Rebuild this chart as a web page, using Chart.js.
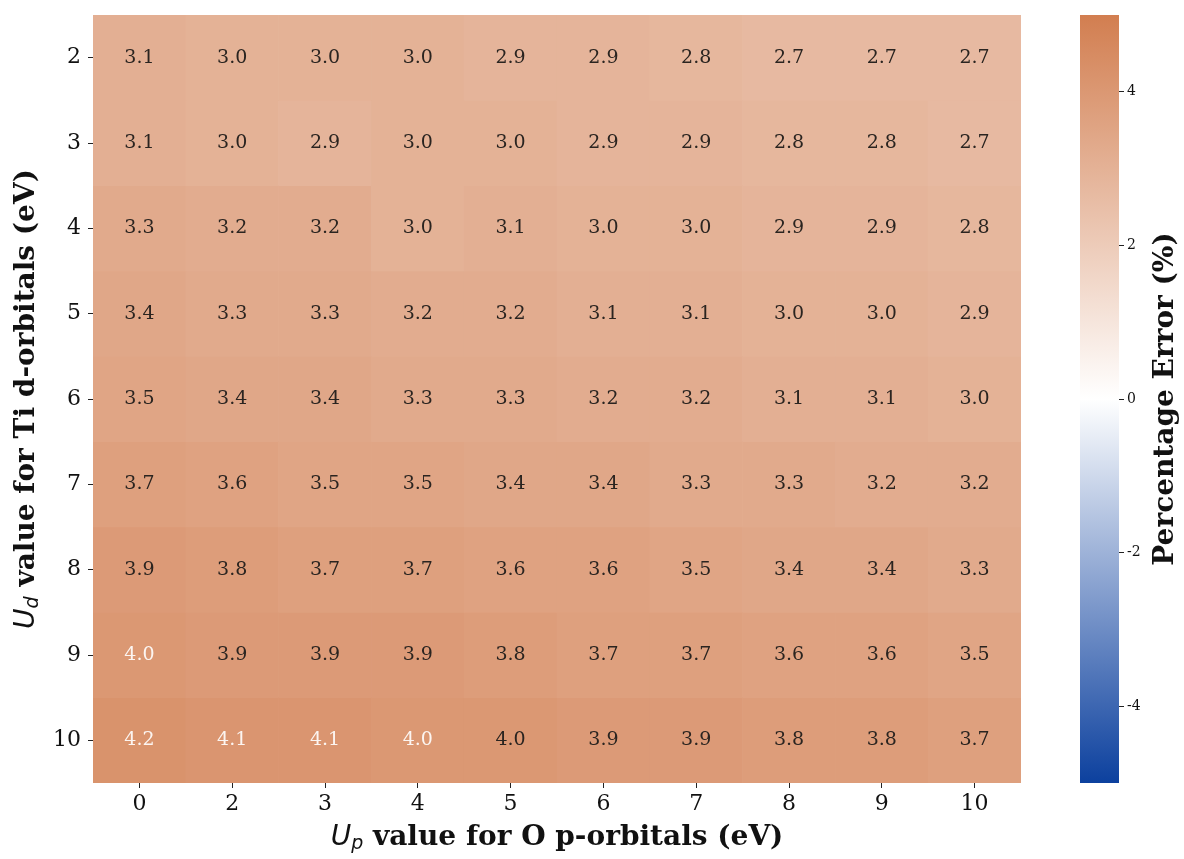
<!DOCTYPE html>
<html>
<head>
<meta charset="utf-8">
<script src="https://cdn.jsdelivr.net/npm/chart.js@4"></script>
<style>
  body { margin: 0; background: #fff; }
  #wrap { position: relative; width: 1184px; height: 859px; }
  #heat { position: absolute; left: 0; top: 0; }
  #cbar { position: absolute; left: 1040px; top: 0; }
</style>
</head>
<body>
<div id="wrap">
  <canvas id="heat" width="1040" height="859"></canvas>
  <canvas id="cbar" width="144" height="859"></canvas>
</div>
<script>
// columns: U_p (eV), rows: U_d (eV)
const upLabels = ['0', '2', '3', '4', '5', '6', '7', '8', '9', '10'];
const udLabels = ['2', '3', '4', '5', '6', '7', '8', '9', '10'];

// percentage error per row (U_d), one value per U_p column
const errUd2 = [3.1, 3.0, 3.0, 3.0, 2.9, 2.9, 2.8, 2.7, 2.7, 2.7];
const errUd3 = [3.1, 3.0, 2.9, 3.0, 3.0, 2.9, 2.9, 2.8, 2.8, 2.7];
const errUd4 = [3.3, 3.2, 3.2, 3.0, 3.1, 3.0, 3.0, 2.9, 2.9, 2.8];
const errUd5 = [3.4, 3.3, 3.3, 3.2, 3.2, 3.1, 3.1, 3.0, 3.0, 2.9];
const errUd6 = [3.5, 3.4, 3.4, 3.3, 3.3, 3.2, 3.2, 3.1, 3.1, 3.0];
const errUd7 = [3.7, 3.6, 3.5, 3.5, 3.4, 3.4, 3.3, 3.3, 3.2, 3.2];
const errUd8 = [3.9, 3.8, 3.7, 3.7, 3.6, 3.6, 3.5, 3.4, 3.4, 3.3];
const errUd9 = [4.0, 3.9, 3.9, 3.9, 3.8, 3.7, 3.7, 3.6, 3.6, 3.5];
const errUd10 = [4.2, 4.1, 4.1, 4.0, 4.0, 3.9, 3.9, 3.8, 3.8, 3.7];
const errRows = [errUd2, errUd3, errUd4, errUd5, errUd6, errUd7, errUd8, errUd9, errUd10];

// cells whose annotation is printed in white ("ud:up")
const lightCells = ['9:0', '10:0', '10:2', '10:3', '10:4'];

const cbTicks = [-4, -2, 0, 2, 4];
const vmin = -5, vmax = 5;

const colNeg = [12, 64, 158];
const colMid = [255, 255, 255];
const colPos = [210, 126, 80];

const cmap = function (v) {
  let t = Math.max(-1, Math.min(1, v / vmax));
  let end = t < 0 ? colNeg : colPos;
  t = Math.abs(t);
  let c = colMid.map((m, k) => Math.round(m + (end[k] - m) * t));
  return `rgb(${c[0]},${c[1]},${c[2]})`;
};

const serif = '"DejaVu Serif", serif';
const sans = '"DejaVu Sans", sans-serif';

// draws a label made of several font runs, centred on (x, y)
const drawRuns = function (ctx, runs, x, y, angle) {
  ctx.save();
  ctx.translate(x, y);
  ctx.rotate(angle);
  let total = 0;
  for (let r of runs) {
    ctx.font = r.font;
    r.w = ctx.measureText(r.text).width;
    total += r.w;
  }
  let cx = -total / 2;
  ctx.textBaseline = 'middle';
  ctx.textAlign = 'left';
  ctx.fillStyle = '#111';
  for (let r of runs) {
    ctx.font = r.font;
    ctx.fillText(r.text, cx, r.dy || 0);
    cx += r.w;
  }
  ctx.restore();
};

const cellLabels = {
  id: 'cellLabels',
  afterDatasetsDraw(chart) {
    const ctx = chart.ctx;
    ctx.save();
    ctx.font = '19px ' + serif;
    ctx.textAlign = 'center';
    ctx.textBaseline = 'middle';
    chart.data.datasets.forEach((ds, i) => {
      chart.getDatasetMeta(i).data.forEach((bar, j) => {
        let light = lightCells.includes(udLabels[i] + ':' + upLabels[j]);
        ctx.fillStyle = light ? 'rgba(255,255,255,0.9)' : '#2a2420';
        ctx.fillText(errRows[i][j].toFixed(1), bar.x, (bar.y + bar.base) / 2);
      });
    });
    ctx.restore();
  },
  afterDraw(chart) {
    const ctx = chart.ctx;
    const { left, right, top, bottom } = chart.chartArea;
    drawRuns(ctx, [
      { text: 'U', font: 'italic 28px ' + sans },
      { text: 'p', font: 'italic 19px ' + sans, dy: 6 },
      { text: ' value for O p-orbitals (eV)', font: 'bold 28px ' + serif },
    ], (left + right) / 2, 838, 0);
    drawRuns(ctx, [
      { text: 'U', font: 'italic 28px ' + sans },
      { text: 'd', font: 'italic 19px ' + sans, dy: 6 },
      { text: ' value for Ti d-orbitals (eV)', font: 'bold 28px ' + serif },
    ], 27, (top + bottom) / 2, -Math.PI / 2);
  },
};

new Chart(document.getElementById('heat').getContext('2d'), {
  type: 'bar',
  data: {
    labels: upLabels,
    datasets: errRows.map((row, i) => ({
      label: udLabels[i],
      data: row.map(() => 1),
      backgroundColor: row.map((v) => cmap(v)),
      borderWidth: 0,
      barPercentage: 1,
      categoryPercentage: 1,
    })),
  },
  options: {
    responsive: false,
    animation: false,
    events: [],
    layout: { padding: { top: 15, right: 19, left: 0, bottom: 0 } },
    plugins: { legend: { display: false }, tooltip: { enabled: false } },
    scales: {
      x: {
        stacked: true,
        offset: true,
        grid: { drawOnChartArea: false, drawTicks: true, tickLength: 5, offset: false, color: '#222' },
        border: { display: false },
        ticks: { font: { family: serif, size: 22 }, color: '#111', padding: 3, maxRotation: 0 },
        afterFit(s) { s.height = 76; s.paddingLeft = 0; s.paddingRight = 0; },
      },
      y: {
        type: 'linear',
        stacked: true,
        min: 0,
        max: udLabels.length,
        reverse: true,
        afterBuildTicks(axis) {
          axis.ticks = udLabels.map((_, i) => ({ value: i + 0.5 }));
        },
        grid: { drawOnChartArea: false, drawTicks: true, tickLength: 5, color: '#222' },
        border: { display: false },
        ticks: {
          font: { family: serif, size: 22 },
          color: '#111',
          padding: 7,
          callback: (v, idx) => udLabels[idx],
        },
        afterFit(s) { s.width = 93; s.paddingTop = 0; s.paddingBottom = 0; },
      },
    },
  },
  plugins: [cellLabels],
});

const cbarTitle = {
  id: 'cbarTitle',
  afterDraw(chart) {
    const { top, bottom } = chart.chartArea;
    drawRuns(chart.ctx, [
      { text: 'Percentage Error (%)', font: 'bold 28px ' + serif },
    ], 126, (top + bottom) / 2, -Math.PI / 2);
  },
};

new Chart(document.getElementById('cbar').getContext('2d'), {
  type: 'bar',
  data: {
    labels: ['cb'],
    datasets: [{
      data: [[vmin, vmax]],
      backgroundColor: function ({ chart }) {
        const y = chart.scales.y;
        if (!y) return cmap(0);
        let y0 = y.getPixelForValue(vmax), y1 = y.getPixelForValue(vmin);
        if (!isFinite(y0) || !isFinite(y1) || y0 === y1) return cmap(0);
        let g = chart.ctx.createLinearGradient(0, y0, 0, y1);
        g.addColorStop(0, cmap(vmax));
        g.addColorStop(0.5, cmap(0));
        g.addColorStop(1, cmap(vmin));
        return g;
      },
      borderWidth: 0,
      barPercentage: 1,
      categoryPercentage: 1,
    }],
  },
  options: {
    responsive: false,
    animation: false,
    events: [],
    layout: { padding: { top: 15, left: 40, right: 0, bottom: 76 } },
    plugins: { legend: { display: false }, tooltip: { enabled: false } },
    scales: {
      x: { display: false },
      y: {
        position: 'right',
        min: vmin,
        max: vmax,
        afterBuildTicks(axis) {
          axis.ticks = cbTicks.map((v) => ({ value: v }));
        },
        grid: { drawOnChartArea: false, drawTicks: true, tickLength: 5, color: '#222' },
        border: { display: false },
        ticks: { font: { family: serif, size: 14 }, color: '#111', padding: 3 },
        afterFit(s) { s.width = 65; s.paddingTop = 0; s.paddingBottom = 0; },
      },
    },
  },
  plugins: [cbarTitle],
});
</script>
</body>
</html>
